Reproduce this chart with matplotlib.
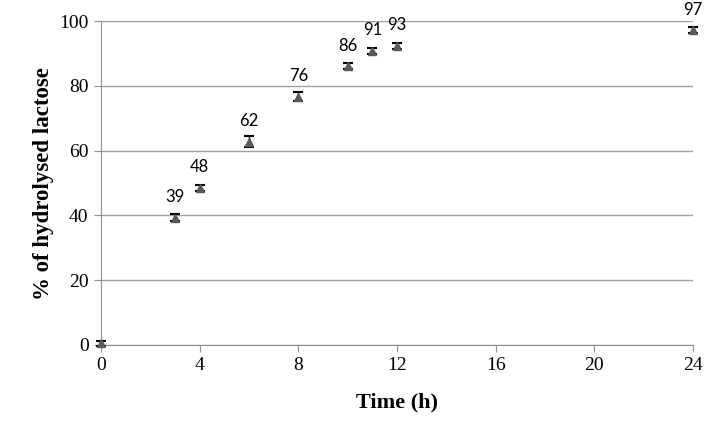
import matplotlib.pyplot as plt

time_h = [0, 3, 4, 6, 8, 10, 11, 12, 24]
hydrolysed = [0.5, 39.3, 48.5, 62.8, 76.6, 86.1, 90.8, 92.4, 97.2]
errors = [0.8, 1.0, 1.0, 1.6, 1.4, 0.9, 1.0, 1.0, 0.9]
labels = ["", "39", "48", "62", "76", "86", "91", "93", "97"]

fig = plt.figure(figsize=(7.19, 4.32), dpi=100)
ax = fig.add_axes([0.1405, 0.2014, 0.8235, 0.7496])

eb = ax.errorbar(time_h, hydrolysed, yerr=errors, fmt="^", color="#5a5a5a",
                 markersize=6, ecolor="black", elinewidth=1, capsize=3.5,
                 capthick=1.5, zorder=3)
for artist in eb.lines[0:1] + tuple(eb.lines[1]) + tuple(eb.lines[2]):
    if artist is not None:
        artist.set_clip_on(False)

for t, v, lab in zip(time_h, hydrolysed, labels):
    if lab:
        ax.annotate(lab, (t, v), xytext=(0, 9), textcoords="offset points",
                    ha="center", va="bottom", fontsize=12, family="Lato")

ax.set_xlim(0, 24)
ax.set_ylim(0, 100)
ax.set_xticks(range(0, 25, 4))
ax.set_yticks(range(0, 101, 20))
ax.grid(axis="y", color="#a0a0a0", linewidth=1)
ax.set_axisbelow(True)
for s in ["top", "right"]:
    ax.spines[s].set_visible(False)
for s in ["left", "bottom"]:
    ax.spines[s].set_color("#909090")
ax.tick_params(color="#909090", length=5, labelsize=14, pad=4)
for lab in ax.get_xticklabels() + ax.get_yticklabels():
    lab.set_family("Liberation Serif")

ax.set_xlabel("Time (h)", family="Liberation Serif", fontsize=16,
              fontweight="bold", labelpad=13)
ax.set_ylabel("% of hydrolysed lactose", family="Liberation Serif",
              fontsize=16.5, fontweight="bold", labelpad=4)

fig.savefig("out.png", dpi=100)
